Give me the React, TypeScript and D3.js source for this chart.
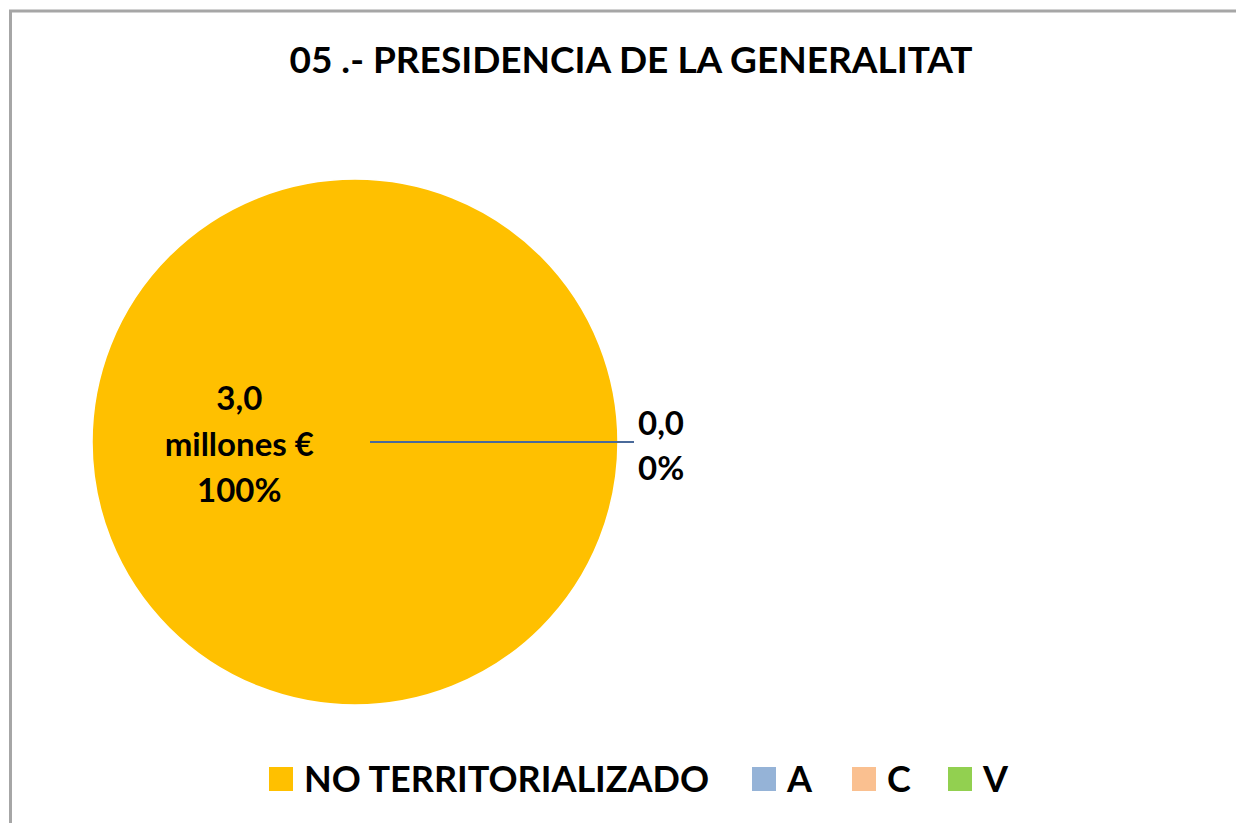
import { useEffect, useRef } from "react";
import * as d3 from "d3";

// data
const categories = ["NO TERRITORIALIZADO", "A", "C", "V"];
const values = [3.0, 0.0, 0.0, 0.0];
const percents = ["100%", "0%", "0%", "0%"];
const colors = ["#FFC000", "#95B3D7", "#FAC090", "#92D050"];
const title = "05 .- PRESIDENCIA DE LA GENERALITAT";

const FONT = "Lato, 'Open Sans', sans-serif";

const App = () => {
  const svgRef = useRef<SVGSVGElement | null>(null);

  useEffect(() => {
    const WIDTH = 1236;
    const HEIGHT = 823;
    const CX = 355;
    const CY = 442;
    const R = 263;

    const svg = d3.select(svgRef.current).attr("width", WIDTH).attr("height", HEIGHT);
    svg.selectAll("*").remove();

    // chart frame (runs off the right and bottom of the picture)
    svg
      .append("rect")
      .attr("x", 10.5)
      .attr("y", 11)
      .attr("width", WIDTH + 20)
      .attr("height", HEIGHT + 20)
      .attr("fill", "#fff")
      .attr("stroke", "#A6A6A6")
      .attr("stroke-width", 3);

    svg
      .append("text")
      .attr("x", 631)
      .attr("y", 73)
      .attr("text-anchor", "middle")
      .attr("font-family", FONT)
      .attr("font-weight", "bold")
      .attr("font-size", 37)
      .text(title);

    const data = categories.map((c, i) => ({ name: c, value: values[i], pct: percents[i], color: colors[i] }));

    const pie = d3
      .pie<any>()
      .sort(null)
      .value((d) => d.value);
    const arcs = pie(data);
    const arc = d3.arc<any>().innerRadius(0).outerRadius(R);

    const chart = svg.append("g").attr("transform", `translate(${CX},${CY})`);

    chart
      .selectAll(".slice")
      .data(arcs.filter((a) => a.value > 0))
      .enter()
      .append("path")
      .classed("slice", true)
      .attr("d", arc)
      .attr("fill", (d) => d.data.color)
      .attr("stroke", "#fff")
      .attr("stroke-width", 1.5);

    // main slice label
    const main = arcs[0];
    const lines = [d3.format(".1f")(main.value).replace(".", ","), "millones €", main.data.pct];
    chart
      .append("text")
      .attr("x", -R * 0.44)
      .attr("y", -32)
      .attr("text-anchor", "middle")
      .attr("font-family", FONT)
      .attr("font-weight", "bold")
      .attr("font-size", 33)
      .selectAll("tspan")
      .data(lines)
      .enter()
      .append("tspan")
      .attr("x", -R * 0.44)
      .attr("dy", (_d, i) => (i === 0 ? 0 : 46))
      .text((d) => d);

    // zero slice label with leader line
    const zero = arcs[1];
    chart
      .append("line")
      .attr("x1", 15)
      .attr("y1", 0)
      .attr("x2", R + 16)
      .attr("y2", 0)
      .attr("stroke", "#4A6A9A")
      .attr("stroke-width", 2);

    chart
      .append("text")
      .attr("x", R + 20)
      .attr("y", -7)
      .attr("font-family", FONT)
      .attr("font-weight", "bold")
      .attr("font-size", 33)
      .selectAll("tspan")
      .data([d3.format(".1f")(zero.value).replace(".", ","), zero.data.pct])
      .enter()
      .append("tspan")
      .attr("x", R + 20)
      .attr("dy", (_d, i) => (i === 0 ? 0 : 45))
      .text((d) => d);

    // legend
    const legendX = [269, 752, 852, 948];
    const legend = svg
      .append("g")
      .selectAll(".legend")
      .data(data)
      .enter()
      .append("g")
      .classed("legend", true)
      .attr("transform", (_d, i) => `translate(${legendX[i]},767)`);

    legend
      .append("rect")
      .attr("width", 24)
      .attr("height", 24)
      .attr("fill", (d) => d.color);

    legend
      .append("text")
      .attr("x", 35)
      .attr("y", 25)
      .attr("font-family", FONT)
      .attr("font-weight", "bold")
      .attr("font-size", 36)
      .text((d) => d.name);
  }, []);

  return <svg ref={svgRef} style={{ position: "absolute", left: 0, top: 0, display: "block" }} />;
};

export default App;
